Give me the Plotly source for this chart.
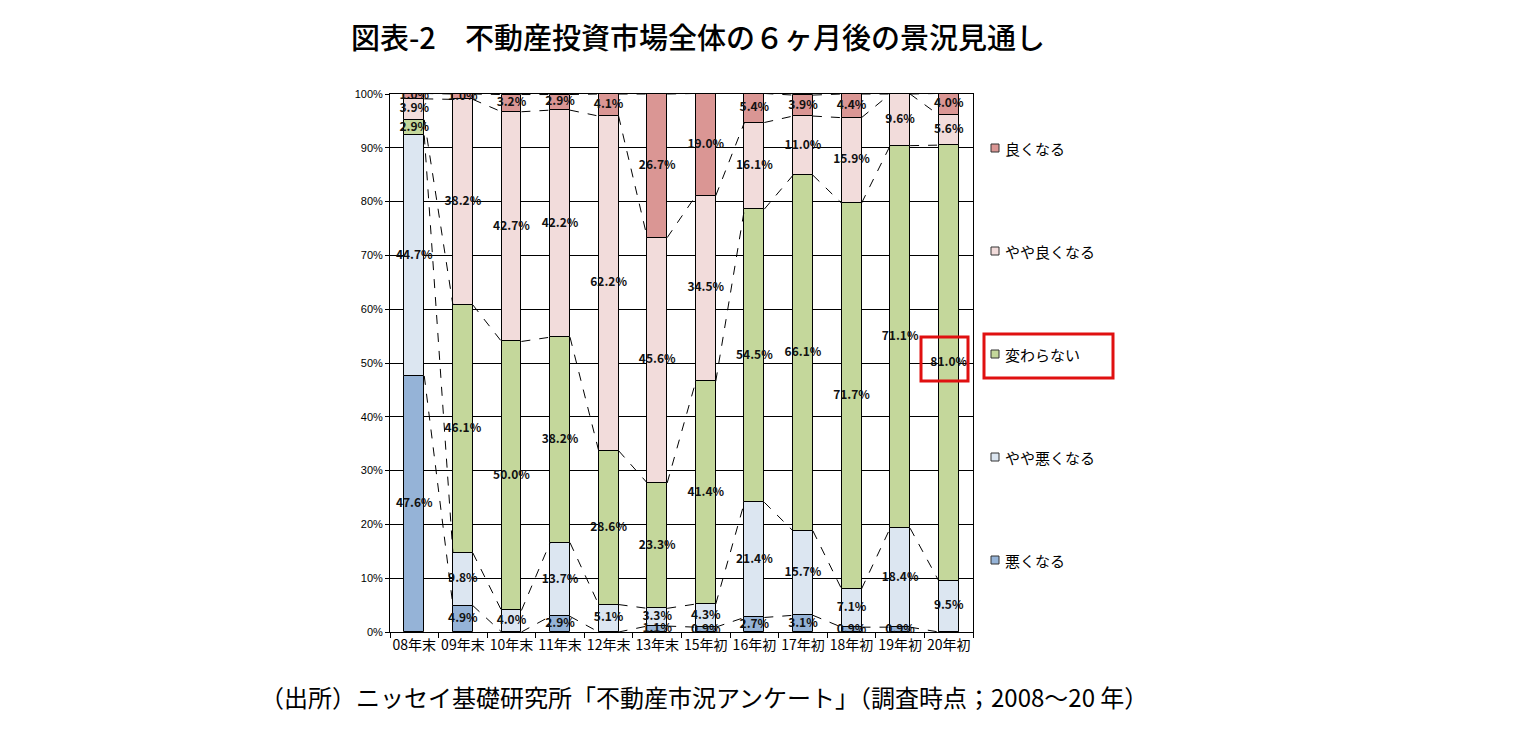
import plotly.graph_objects as go

# -------------------------------------------------------------------------
# Datos (%)
# -------------------------------------------------------------------------
categories = ["08年末", "09年末", "10年末", "11年末", "12年末", "13年末",
              "15年初", "16年初", "17年初", "18年初", "19年初", "20年初"]

worse = [47.6, 4.9, 0.0, 2.9, 0.0, 1.1, 0.9, 2.7, 3.1, 0.9, 0.9, 0.0]
slightly_worse = [44.7, 9.8, 4.0, 13.7, 5.1, 3.3, 4.3, 21.4, 15.7, 7.1, 18.4, 9.5]
unchanged = [2.9, 46.1, 50.0, 38.2, 28.6, 23.3, 41.4, 54.5, 66.1, 71.7, 71.1, 81.0]
slightly_better = [3.9, 38.2, 42.7, 42.2, 62.2, 45.6, 34.5, 16.1, 11.0, 15.9, 9.6, 5.6]
better = [1.0, 1.0, 3.2, 2.9, 4.1, 26.7, 19.0, 5.4, 3.9, 4.4, 0.0, 4.0]

series_names = ["悪くなる", "やや悪くなる", "変わらない", "やや良くなる", "良くなる"]
series_values = [worse, slightly_worse, unchanged, slightly_better, better]
series_colors = ["#95B3D7", "#DCE6F1", "#C4D79B", "#F2DCDB", "#DA9694"]

FONT = "Noto Sans CJK JP"
BAR_W = 0.41

# area de trazado en pixeles de la pagina (el body tiene 8px de margen)
PX_L, PX_R, PX_T, PX_B = 390, 973, 94, 632
PLOT_W, PLOT_H = PX_R - PX_L, PX_B - PX_T
FIG_W, FIG_H = 1501, 717


def paper_x(px):
    return (px - PX_L) / PLOT_W


def paper_y(py):
    return (PX_B - py) / PLOT_H


fig = go.Figure()
xs = list(range(len(categories)))

# --- barras apiladas ---
base = [0.0] * len(categories)
tops = []
for name, vals, color in zip(series_names, series_values, series_colors):
    fig.add_trace(go.Bar(
        x=xs, y=vals, base=base, width=BAR_W, name=name,
        marker=dict(color=color, line=dict(color="black", width=1)),
        showlegend=False,
    ))
    mids = [b + v / 2 for b, v in zip(base, vals)]
    labels = [f"{v:.1f}%" if v > 0 else "" for v in vals]
    fig.add_trace(go.Scatter(
        x=xs, y=mids, mode="text", text=labels,
        textfont=dict(family=FONT, size=12, color="#111", weight="bold"),
        showlegend=False, hoverinfo="skip",
    ))
    base = [b + v for b, v in zip(base, vals)]
    tops.append(list(base))

# --- lineas de serie (discontinuas) ---
for top in tops:
    lx, ly = [], []
    for i in range(len(categories) - 1):
        lx += [i + BAR_W / 2, i + 1 - BAR_W / 2, None]
        ly += [top[i], top[i + 1], None]
    fig.add_trace(go.Scatter(
        x=lx, y=ly, mode="lines",
        line=dict(color="black", width=1, dash="dash"),
        showlegend=False, hoverinfo="skip",
    ))

# --- leyenda manual ---
legend_y = [148, 251, 354, 457, 560]  # de 良くなる a 悪くなる
for name, color, py in zip(series_names[::-1], series_colors[::-1], legend_y):
    fig.add_shape(type="rect", xref="paper", yref="paper",
                  x0=paper_x(991), x1=paper_x(999),
                  y0=paper_y(py + 4), y1=paper_y(py - 4),
                  fillcolor=color, line=dict(color="#333", width=1))
    fig.add_annotation(xref="paper", yref="paper",
                       x=paper_x(1003), y=paper_y(py),
                       text=name, showarrow=False,
                       xanchor="left", yanchor="middle",
                       font=dict(family=FONT, size=15, color="black"))

# --- recuadros rojos ---
fig.add_shape(type="rect", xref="paper", yref="paper",
              x0=paper_x(984), x1=paper_x(1113),
              y0=paper_y(378), y1=paper_y(334),
              line=dict(color="#E01010", width=3))
fig.add_shape(type="rect", xref="paper", yref="paper",
              x0=paper_x(921), x1=paper_x(968),
              y0=paper_y(381), y1=paper_y(337),
              line=dict(color="#E01010", width=3))

# --- titulo y fuente ---
fig.add_annotation(xref="paper", yref="paper", x=paper_x(349),
                   y=paper_y(36), showarrow=False,
                   xanchor="left", yanchor="middle",
                   text="図表-2\u3000不動産投資市場全体の６ヶ月後の景況見通し",
                   font=dict(family=FONT, size=29, color="black", weight=500))
fig.add_annotation(xref="paper", yref="paper", x=paper_x(258),
                   y=paper_y(697), showarrow=False,
                   xanchor="left", yanchor="middle",
                   text="（出所）ニッセイ基礎研究所「不動産市況アンケート」（調査時点；2008～20 年）",
                   font=dict(family=FONT, size=24, color="black"))

fig.update_layout(
    width=FIG_W, height=FIG_H,
    margin=dict(l=PX_L - 8, r=FIG_W - (PX_R - 8), t=PX_T - 8,
                b=FIG_H - (PX_B - 8)),
    plot_bgcolor="white", paper_bgcolor="white",
    barmode="overlay", bargap=0,
    xaxis=dict(range=[-0.5, 11.5], tickvals=xs, ticktext=categories,
               showgrid=False, showline=True, linecolor="black", mirror=True,
               ticks="", tickfont=dict(family=FONT, size=14, color="black"),
               minor=dict(tick0=0.5, dtick=1, ticks="outside", ticklen=5,
                          tickcolor="black", showgrid=False),
               zeroline=False),
    yaxis=dict(range=[0, 100], dtick=10, ticksuffix="%",
               showgrid=True, gridcolor="black", gridwidth=1,
               showline=True, linecolor="black", mirror=True,
               ticks="outside", ticklen=4, tickcolor="black",
               tickfont=dict(family="Liberation Sans", size=11, color="black"),
               zeroline=False),
)

fig.write_html("out.html")
